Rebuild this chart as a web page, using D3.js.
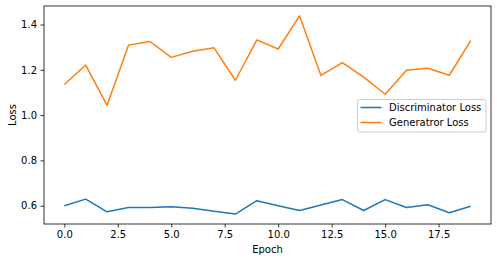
<!DOCTYPE html>
<html>
<head>
<meta charset="utf-8">
<script src="https://cdn.jsdelivr.net/npm/d3@7"></script>
<style>
  body { margin: 0; background: #fff; }
  text { font-family: "DejaVu Sans", sans-serif; font-size: 10px; fill: #000; }
  .axis path, .axis line { stroke: #000; stroke-width: 0.8; }
</style>
</head>
<body>
<div id="chart"></div>
<script>
// data
const epochs = d3.range(20);
const discLoss = [0.600, 0.629, 0.573, 0.592, 0.592, 0.595, 0.589, 0.576, 0.563, 0.622,
                  0.600, 0.579, 0.603, 0.627, 0.579, 0.627, 0.592, 0.604, 0.569, 0.598];
const genLoss = [1.135, 1.221, 1.043, 1.309, 1.325, 1.255, 1.282, 1.297, 1.154, 1.332,
                 1.292, 1.438, 1.175, 1.232, 1.168, 1.092, 1.198, 1.207, 1.176, 1.329];
const seriesNames = ["Discriminator Loss", "Generatror Loss"];
const xTicks = [0, 2.5, 5, 7.5, 10, 12.5, 15, 17.5];
const yTicks = [0.6, 0.8, 1.0, 1.2, 1.4];

const width = 497, height = 262;
const margin = {top: 6, right: 6, bottom: 38, left: 44};

const svg = d3.select("#chart")
  .append("svg")
    .attr("width", width)
    .attr("height", height);

// matplotlib-like 5% padding
const xMin = d3.min(epochs), xMax = d3.max(epochs);
const xPad = (xMax - xMin) * 0.05;
const allY = discLoss.concat(genLoss);
const yMin = d3.min(allY), yMax = d3.max(allY);
const yPad = (yMax - yMin) * 0.05;

const x = d3.scaleLinear()
  .domain([xMin - xPad, xMax + xPad])
  .range([margin.left, width - margin.right]);

const y = d3.scaleLinear()
  .domain([yMin - yPad, yMax + yPad])
  .range([height - margin.bottom, margin.top]);

// axes
svg.append("g")
    .attr("class", "axis")
    .attr("transform", `translate(0,${height - margin.bottom})`)
    .call(d3.axisBottom(x).tickValues(xTicks).tickFormat(d3.format(".1f")).tickSize(3.5).tickPadding(3.5))
    .call(g => g.select(".domain").remove());

svg.append("g")
    .attr("class", "axis")
    .attr("transform", `translate(${margin.left},0)`)
    .call(d3.axisLeft(y).tickValues(yTicks).tickFormat(d3.format(".1f")).tickSize(3.5).tickPadding(3.5))
    .call(g => g.select(".domain").remove());

svg.selectAll(".axis text").attr("font-size", 10).attr("font-family", "DejaVu Sans");

// frame
svg.append("rect")
    .attr("x", margin.left)
    .attr("y", margin.top)
    .attr("width", width - margin.left - margin.right)
    .attr("height", height - margin.top - margin.bottom)
    .attr("fill", "none")
    .attr("stroke", "#000")
    .attr("stroke-width", 0.8);

// lines
const colors = ["#1f77b4", "#ff7f0e"];
const line = d3.line()
    .x((d, i) => x(epochs[i]))
    .y(d => y(d));

[discLoss, genLoss].forEach((s, k) => {
  svg.append("path")
      .datum(s)
      .attr("fill", "none")
      .attr("stroke", colors[k])
      .attr("stroke-width", 1.5)
      .attr("stroke-linejoin", "round")
      .attr("d", line);
});

// axis labels
svg.append("text")
    .attr("x", (margin.left + width - margin.right) / 2)
    .attr("y", 253)
    .attr("text-anchor", "middle")
    .text("Epoch");

svg.append("text")
    .attr("transform", `translate(16,${(margin.top + height - margin.bottom) / 2}) rotate(-90)`)
    .attr("text-anchor", "middle")
    .text("Loss");

// legend
const legend = svg.append("g")
    .attr("transform", "translate(357.5,99.5)");

legend.append("rect")
    .attr("width", 128.5)
    .attr("height", 32.5)
    .attr("rx", 2)
    .attr("fill", "#fff")
    .attr("fill-opacity", 0.8)
    .attr("stroke", "#ccc")
    .attr("stroke-width", 1);

seriesNames.forEach((name, i) => {
  const ly = 8 + i * 15;
  legend.append("line")
      .attr("x1", 3).attr("x2", 24)
      .attr("y1", ly).attr("y2", ly)
      .attr("stroke", colors[i])
      .attr("stroke-width", 1.5);
  legend.append("text")
      .attr("x", 31.5)
      .attr("y", ly + 3.5)
      .text(name);
});
</script>
</body>
</html>
